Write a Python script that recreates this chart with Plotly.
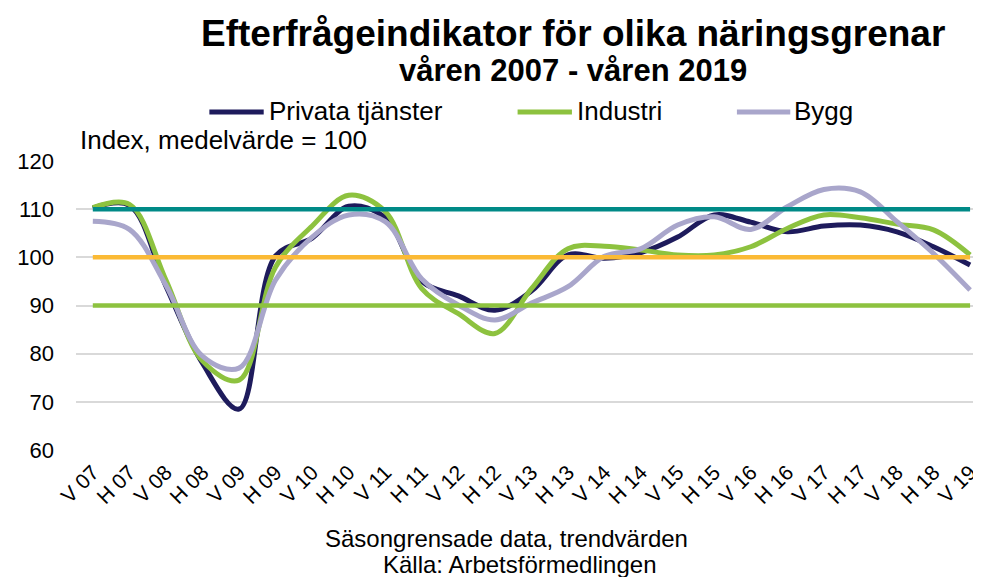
import plotly.graph_objects as go

categories = ["V 07","H 07","V 08","H 08","V 09","H 09","V 10","H 10","V 11","H 11","V 12","H 12",
              "V 13","H 13","V 14","H 14","V 15","H 15","V 16","H 16","V 17","H 17","V 18","H 18","V 19"]

privata = [110.2, 110.8, 94.0, 78.0, 68.5, 100.3, 104.0, 110.6, 108.2, 95.0, 92.0, 89.0,
           93.0, 100.5, 99.8, 101.0, 104.2, 108.8, 107.3, 105.3, 106.5, 106.7, 105.3, 102.2, 98.4]
industri = [110.3, 111.0, 95.3, 78.5, 74.5, 98.0, 106.5, 112.9, 109.5, 93.5, 88.3, 84.2,
            93.5, 101.8, 102.3, 101.5, 100.5, 100.5, 102.2, 106.0, 108.8, 108.2, 106.9, 105.7, 100.5]
bygg = [107.5, 105.8, 94.2, 79.5, 77.0, 95.3, 104.2, 108.8, 107.4, 95.5, 90.1, 87.0,
        90.5, 93.9, 100.2, 101.8, 106.7, 108.4, 105.8, 110.5, 114.1, 113.6, 107.4, 100.8, 93.2]

ref_levels = [110, 100, 90]
series_names = ["Privata tjänster", "Industri", "Bygg"]
y_ticks = [60, 70, 80, 90, 100, 110, 120]

title = "Efterfrågeindikator för olika näringsgrenar"
subtitle = "våren 2007 - våren 2019"
unit_note = "Index, medelvärde = 100"
x_note = "Säsongrensade data, trendvärden"
source = "Källa: Arbetsförmedlingen"

colors = ["#1E1B5C", "#8DC23F", "#A9A6CB"]
ref_colors = ["#008A87", "#FBBA35", "#8DC23F"]

FONT = "Arial, 'Liberation Sans', sans-serif"

fig = go.Figure()
for name, vals, col in zip(series_names, [privata, industri, bygg], colors):
    fig.add_trace(go.Scatter(x=categories, y=vals, mode="lines", name=name,
                             line=dict(color=col, width=5, shape="spline", smoothing=1.0),
                             showlegend=False))
for lvl, col in zip(ref_levels, ref_colors):
    fig.add_trace(go.Scatter(x=categories, y=[lvl] * len(categories), mode="lines",
                             line=dict(color=col, width=4.5), showlegend=False, hoverinfo="skip"))

# page body adds an 8px offset; layout positions below are in page pixels
OFF = 8
W, H = 981, 577
PL, PR, PT, PB = 70, 980, 161, 450   # plot area in page pixels
L, R, T, B = PL - OFF, W - (PR - OFF), PT - OFF, H - (PB - OFF)
pw, ph = PR - PL, PB - PT

def px(x):
    return (x - PL) / pw

def py(y):
    return (PB - y) / ph

annotations = [
    dict(text=f"<b>{title}</b>", x=px(573), y=py(33), font=dict(size=37, color="black", family=FONT)),
    dict(text=f"<b>{subtitle}</b>", x=px(573), y=py(71), font=dict(size=31, color="black", family=FONT)),
    dict(text=unit_note, x=px(72), y=py(140), xanchor="left", font=dict(size=26, color="black", family=FONT)),
    dict(text=x_note, x=px(506), y=py(538), font=dict(size=24, color="black", family=FONT)),
    dict(text=source, x=px(519), y=py(564), font=dict(size=24, color="black", family=FONT)),
]
for a in annotations:
    a.update(xref="paper", yref="paper", showarrow=False)
    a.setdefault("xanchor", "center")
    a.setdefault("yanchor", "middle")

shapes = []
leg_lines = [(205, 260), (517, 572), (739, 793)]
leg_text_x = [263, 575, 795]
for (x0, x1), tx, name, col in zip(leg_lines, leg_text_x, series_names, colors):
    shapes.append(dict(type="line", xref="paper", yref="paper", x0=px(x0), x1=px(x1),
                       y0=py(112), y1=py(112), line=dict(color=col, width=5)))
    annotations.append(dict(text=name, x=px(tx), y=py(111), xref="paper", yref="paper",
                            xanchor="left", yanchor="middle", showarrow=False,
                            font=dict(size=26, color="black", family=FONT)))

fig.update_layout(
    width=W, height=H,
    margin=dict(l=L, r=R, t=T, b=B, pad=0),
    paper_bgcolor="white", plot_bgcolor="white",
    font=dict(family=FONT, color="black"),
    annotations=annotations, shapes=shapes,
    showlegend=False,
    xaxis=dict(type="category", range=[-0.46, 24.135], showgrid=False, zeroline=False,
               showline=False, ticks="", tickangle=-45, tickfont=dict(size=21, family=FONT, color="black"),
               ticklabelstandoff=5),
    yaxis=dict(range=[60, 120], tickvals=y_ticks, showgrid=True, gridcolor="#D9D9D9", gridwidth=1.5,
               zeroline=False, showline=False, ticks="", tickfont=dict(size=22, family=FONT, color="black"),
               ticklabelstandoff=21),
)

fig.write_html("out.html")
